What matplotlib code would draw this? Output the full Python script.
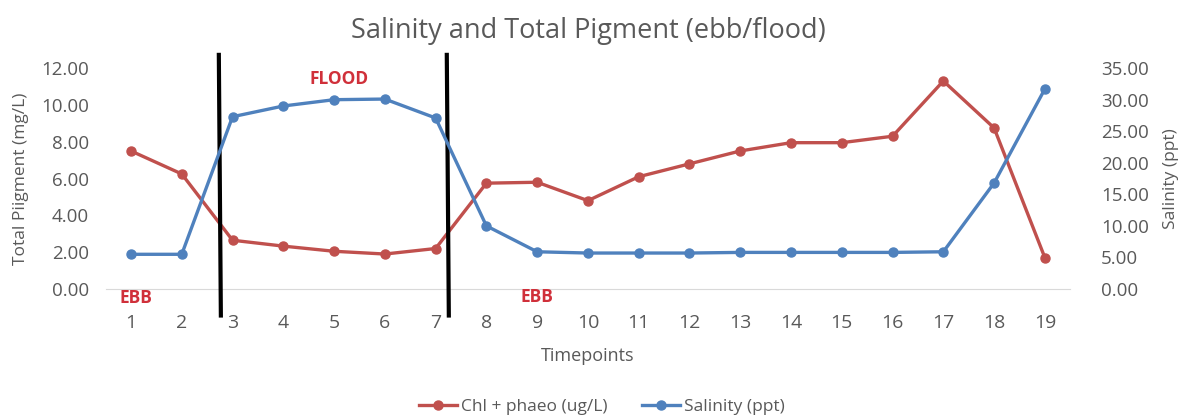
import matplotlib.pyplot as plt
from matplotlib.lines import Line2D

# dados
timepoints = list(range(1, 20))
chl_phaeo = [7.5, 6.25, 2.65, 2.33, 2.05, 1.9, 2.2, 5.75, 5.8, 4.8, 6.1, 6.8,
             7.5, 7.95, 7.95, 8.3, 11.3, 8.75, 1.7]
salinidade = [5.5, 5.5, 27.3, 29.0, 30.0, 30.1, 27.1, 10.0, 5.9, 5.7, 5.7, 5.7,
              5.8, 5.8, 5.8, 5.8, 5.9, 16.8, 31.7]
divisorias = [2.75, 7.24]
rotulos_mare = [("EBB", 1.1, -0.04), ("FLOOD", 5.1, 0.95), ("EBB", 9.0, -0.035)]

vermelho = '#c0504d'
azul = '#4f81bd'
cinza = '#595959'
plt.rcParams['font.family'] = ['Open Sans', 'DejaVu Sans']

fig = plt.figure(figsize=(11.8, 4.18), dpi=100)
ax = fig.add_axes([0.0895, 0.3086, 0.8175, 0.5284])
ax2 = ax.twinx()

ax.plot(timepoints, chl_phaeo, color=vermelho, lw=2.4, marker='o', ms=6.5,
        label='Chl + phaeo (ug/L)', zorder=3)
ax2.plot(timepoints, salinidade, color=azul, lw=2.4, marker='o', ms=6.5,
         label='Salinity (ppt)', zorder=3)

ax.set_xlim(0.5, 19.5)
ax.set_ylim(0, 12)
ax2.set_ylim(0, 35)
ax.set_xticks(timepoints)
ax.set_yticks(range(0, 13, 2))
ax.set_yticklabels([f'{v:.2f}' for v in range(0, 13, 2)])
ax2.set_yticks(range(0, 36, 5))
ax2.set_yticklabels([f'{v:.2f}' for v in range(0, 36, 5)])

for a in (ax, ax2):
    for s in a.spines.values():
        s.set_visible(False)
ax.spines['bottom'].set_visible(True)
ax.spines['bottom'].set_color('#d9d9d9')
ax.tick_params(axis='y', length=0, pad=12, labelsize=13.5, labelcolor=cinza)
ax.tick_params(axis='x', length=0, pad=18, labelsize=14, labelcolor=cinza)
ax2.tick_params(axis='y', length=0, pad=22, labelsize=13.5, labelcolor=cinza)

ax.set_ylabel('Total Piigment (mg/L)', fontsize=12.5, color=cinza, labelpad=9)
ax2.set_ylabel('Salinity (ppt)', fontsize=12.5, color=cinza, labelpad=10)
ax.set_xlabel('Timepoints', fontsize=13, color=cinza, labelpad=11)
ax.set_title('Salinity and Total Pigment (ebb/flood)', fontsize=19.5, color=cinza, pad=22)

# linhas pretas separando mare
trans = ax.get_xaxis_transform()
for x in divisorias:
    ax.plot([x - 0.02, x + 0.02], [1.06, -0.12], color='black', lw=3,
            transform=trans, clip_on=False, zorder=5)

for texto, x, y in rotulos_mare:
    ax.text(x, y, texto, transform=trans, color='#d0303a', fontsize=12.5,
            fontweight='bold', ha='center', va='center')

handles = [Line2D([], [], color=vermelho, lw=2.4, marker='o', ms=6.5),
           Line2D([], [], color=azul, lw=2.4, marker='o', ms=6.5)]
fig.legend(handles, ['Chl + phaeo (ug/L)', 'Salinity (ppt)'], loc='center',
           bbox_to_anchor=(0.51, 0.026), ncol=2, frameon=False, fontsize=12.5,
           labelcolor=cinza, handlelength=2.2, handletextpad=0.2, columnspacing=2)

plt.savefig('out.png')
